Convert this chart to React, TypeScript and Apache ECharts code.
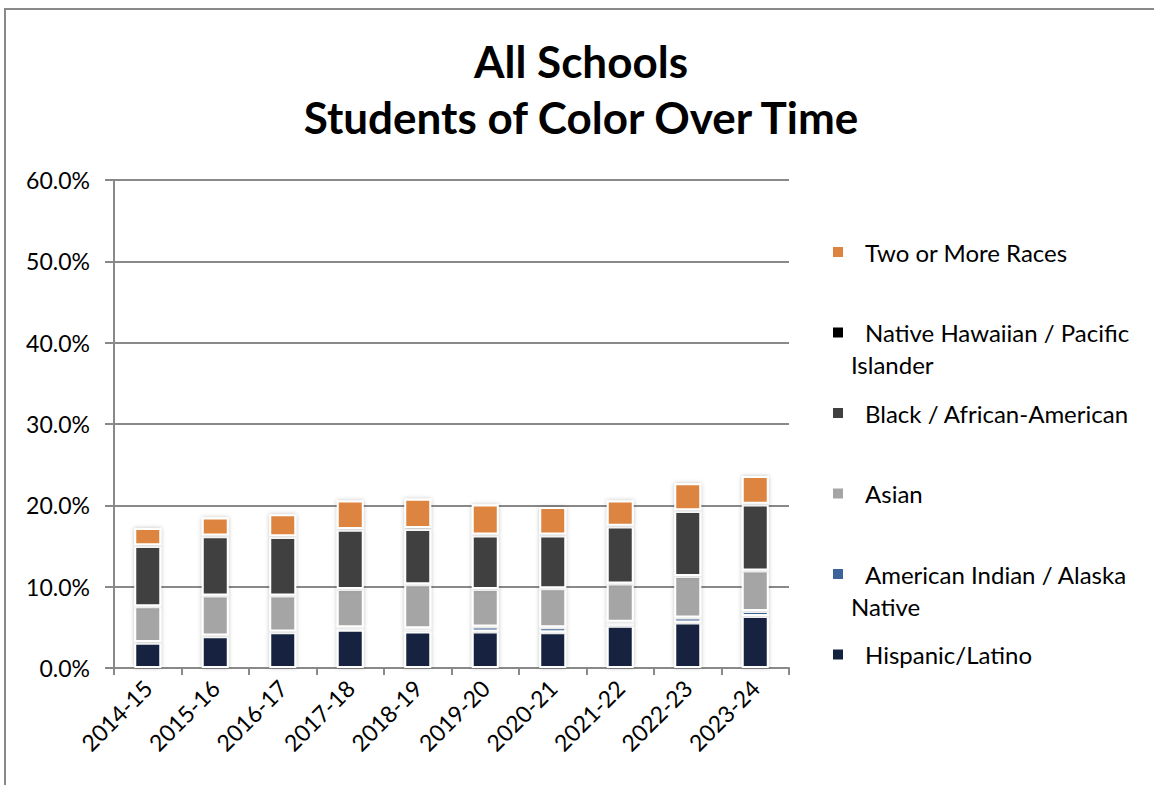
import React, { useEffect, useRef } from "react";
import * as echarts from "echarts";

const categories = ["2014-15", "2015-16", "2016-17", "2017-18", "2018-19", "2019-20", "2020-21", "2021-22", "2022-23", "2023-24"];
const hispanic = [3.1, 3.9, 4.4, 4.7, 4.5, 4.5, 4.4, 5.2, 5.6, 6.4];
const americanIndian = [0.1, 0.1, 0.1, 0.3, 0.4, 0.6, 0.6, 0.5, 0.6, 0.6];
const asian = [4.4, 4.9, 4.4, 4.7, 5.4, 4.6, 4.8, 4.7, 5.1, 5.0];
const black = [7.4, 7.3, 7.2, 7.3, 6.8, 6.6, 6.5, 7.0, 8.0, 8.1];
const nativeHawaiian = [0.1, 0.1, 0.1, 0.1, 0.1, 0.1, 0.1, 0.1, 0.1, 0.1];
const twoOrMore = [2.1, 2.2, 2.7, 3.5, 3.6, 3.7, 3.4, 3.1, 3.3, 3.4];

const seriesDefs = [
  { name: "Hispanic/Latino", data: hispanic, color: "#12243f", first: "Hispanic/Latino", rest: "" },
  { name: "American Indian / Alaska Native", data: americanIndian, color: "#3c6499", first: "American Indian / Alaska", rest: "Native" },
  { name: "Asian", data: asian, color: "#a5a5a5", first: "Asian", rest: "" },
  { name: "Black / African-American", data: black, color: "#404040", first: "Black / African-American", rest: "" },
  { name: "Native Hawaiian / Pacific Islander", data: nativeHawaiian, color: "#000000", first: "Native Hawaiian / Pacific", rest: "Islander" },
  { name: "Two or More Races", data: twoOrMore, color: "#dc843f", first: "Two or More Races", rest: "" },
];

const FONT = "Lato, 'Open Sans', sans-serif";

export default function App() {
  const ref = useRef<HTMLDivElement>(null);
  useEffect(() => {
    if (!ref.current) return;
    const chart = echarts.init(ref.current, null, { renderer: "svg" });
    const legendOrder = [...seriesDefs].reverse();
    const firstMap: Record<string, string> = {};
    seriesDefs.forEach((s) => (firstMap[s.name] = s.first));
    const step = 80.5;
    const lh = 24;
    const legendTop = 235;
    const contTexts: any[] = [];
    legendOrder.forEach((s, i) => {
      if (s.rest) {
        contTexts.push({
          type: "text",
          left: 851,
          top: legendTop + 5 + i * step + 32,
          style: { text: s.rest, fontSize: 24, fontFamily: FONT, fill: "#000" },
          silent: true,
        });
      }
    });
    chart.setOption({
      animation: false,
      backgroundColor: "#fff",
      title: {
        text: "All Schools\nStudents of Color Over Time",
        left: 576,
        textAlign: "center",
        top: 28,
        textStyle: { fontSize: 44, fontWeight: "bold", fontFamily: FONT, color: "#000", lineHeight: 56 },
      },
      graphic: [
        {
          type: "rect",
          shape: { x: 5, y: 9, width: 1400, height: 1000 },
          style: { fill: "none", stroke: "#898989", lineWidth: 2 },
          silent: true,
          z: -10,
        },
        ...contTexts,
      ],
      legend: {
        orient: "vertical",
        left: 826,
        top: legendTop,
        itemWidth: 12,
        itemHeight: 12,
        itemGap: step - lh,
        icon: "rect",
        data: legendOrder.map((s) => s.name),
        formatter: (n: string) => firstMap[n] || n,
        textStyle: { fontSize: 24, fontFamily: FONT, color: "#000", lineHeight: lh, padding: [0, 0, 0, 16] },
        selectedMode: false,
      },
      grid: { left: 114, right: 365, top: 180, bottom: 117, containLabel: false },
      xAxis: {
        type: "category",
        data: categories,
        axisLine: { lineStyle: { color: "#898989", width: 2 } },
        axisTick: { show: true, length: 7, lineStyle: { color: "#898989", width: 2 } },
        axisLabel: { rotate: 45, fontSize: 23, fontFamily: FONT, color: "#000", margin: 16, interval: 0 },
      },
      yAxis: {
        type: "value",
        min: 0,
        max: 60,
        interval: 10,
        axisLine: { show: true, lineStyle: { color: "#898989", width: 2 } },
        axisTick: { show: true, inside: false, length: 9, lineStyle: { color: "#898989", width: 2 } },
        splitLine: { lineStyle: { color: "#898989", width: 2 } },
        axisLabel: { formatter: (v: number) => v.toFixed(1) + "%", fontSize: 23, fontFamily: FONT, color: "#000", margin: 24 },
      },
      series: seriesDefs.map((s) => ({
        name: s.name,
        type: "bar",
        stack: "total",
        barWidth: 27,
        data: s.data,
        itemStyle: {
          color: s.color,
          borderColor: "#fff",
          borderWidth: 2,
          shadowColor: "rgba(0,0,0,0.25)",
          shadowBlur: 4,
        },
      })),
    });
    return () => chart.dispose();
  }, []);
  return <div ref={ref} style={{ position: "fixed", left: 0, top: 0, width: 1154, height: 785 }} />;
}
